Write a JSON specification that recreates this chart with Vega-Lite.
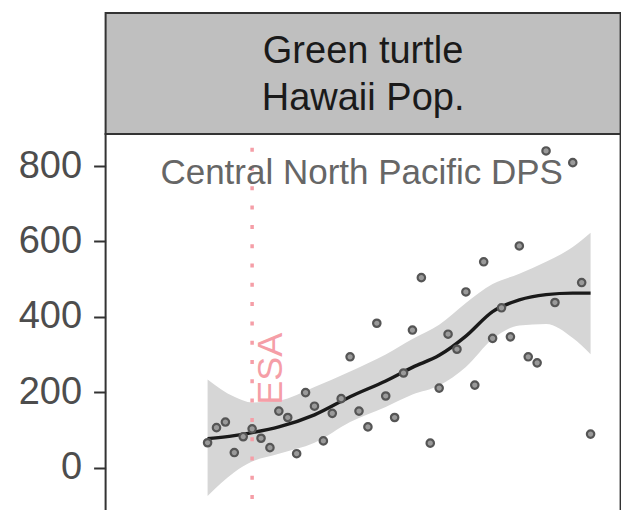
{
  "$schema": "https://vega.github.io/schema/vega-lite/v6.json",
  "padding": {"left": 16.6, "top": 12, "right": 2, "bottom": 0},
  "background": "white",
  "spacing": 0,
  "bounds": "flush",
  "config": {"font": "Liberation Sans", "view": {"stroke": "#333333", "strokeWidth": 2}},
  "datasets": {
    "strip": [{"label": ["Green turtle", "Hawaii Pop."]}],
    "pts": [
      {"year": 1973, "n": 66}, {"year": 1974, "n": 106}, {"year": 1975, "n": 121}, {"year": 1976, "n": 40},
      {"year": 1977, "n": 82}, {"year": 1978, "n": 103}, {"year": 1979, "n": 78}, {"year": 1980, "n": 53},
      {"year": 1981, "n": 150}, {"year": 1982, "n": 133}, {"year": 1983, "n": 37}, {"year": 1984, "n": 199},
      {"year": 1985, "n": 163}, {"year": 1986, "n": 71}, {"year": 1987, "n": 144}, {"year": 1988, "n": 183},
      {"year": 1989, "n": 294}, {"year": 1990, "n": 150}, {"year": 1991, "n": 108}, {"year": 1992, "n": 383},
      {"year": 1993, "n": 190}, {"year": 1994, "n": 133}, {"year": 1995, "n": 251}, {"year": 1996, "n": 365},
      {"year": 1997, "n": 504}, {"year": 1998, "n": 65}, {"year": 1999, "n": 211}, {"year": 2000, "n": 354},
      {"year": 2001, "n": 314}, {"year": 2002, "n": 466}, {"year": 2003, "n": 219}, {"year": 2004, "n": 546},
      {"year": 2005, "n": 343}, {"year": 2006, "n": 424}, {"year": 2007, "n": 347}, {"year": 2008, "n": 588},
      {"year": 2009, "n": 294}, {"year": 2010, "n": 278}, {"year": 2011, "n": 840}, {"year": 2012, "n": 438},
      {"year": 2014, "n": 809}, {"year": 2015, "n": 491}, {"year": 2016, "n": 89}
    ],
    "fit": [
      {"year": 1973, "fit": 77, "lo": -75, "hi": 234},
      {"year": 1976, "fit": 85, "lo": -12, "hi": 188},
      {"year": 1978, "fit": 93, "lo": 16, "hi": 173},
      {"year": 1981, "fit": 108, "lo": 37, "hi": 178},
      {"year": 1985, "fit": 140, "lo": 66, "hi": 214},
      {"year": 1989, "fit": 188, "lo": 121, "hi": 255},
      {"year": 1993, "fit": 230, "lo": 161, "hi": 300},
      {"year": 1996, "fit": 266, "lo": 194, "hi": 341},
      {"year": 1999, "fit": 298, "lo": 218, "hi": 379},
      {"year": 2002, "fit": 349, "lo": 267, "hi": 437},
      {"year": 2005, "fit": 414, "lo": 341, "hi": 487},
      {"year": 2008, "fit": 445, "lo": 377, "hi": 514},
      {"year": 2011, "fit": 459, "lo": 381, "hi": 546},
      {"year": 2014, "fit": 463, "lo": 344, "hi": 585},
      {"year": 2016, "fit": 463, "lo": 301, "hi": 623}
    ],
    "esa": [{"year": 1978, "y": 167, "label": "ESA"}],
    "dps": [{"year": 1990.3, "y": 752, "label": "Central North Pacific DPS"}]
  },
  "vconcat": [
    {
      "width": 515,
      "height": 121,
      "view": {"fill": "#BFBFBF", "stroke": "#333333", "strokeWidth": 2},
      "data": {"name": "strip"},
      "mark": {"type": "text", "fontSize": 38, "color": "#1A1A1A", "lineHeight": 46.7, "baseline": "middle", "align": "center", "dy": -21.5},
      "encoding": {"text": {"field": "label", "type": "nominal"}}
    },
    {
      "width": 515,
      "height": 377,
      "view": {"stroke": "#333333", "strokeWidth": 2},
      "layer": [
        {
          "data": {"name": "fit"},
          "mark": {"type": "area", "color": "#D6D6D6", "opacity": 1, "interpolate": "monotone"},
          "encoding": {
            "x": {"field": "year", "type": "quantitative", "scale": {"domain": [1961.55, 2019.37], "nice": false, "zero": false}, "axis": null},
            "y": {"field": "lo", "type": "quantitative", "scale": {"domain": [-115, 885], "nice": false, "zero": false},
                  "axis": {"title": null, "values": [0, 200, 400, 600, 800], "grid": false, "domain": false,
                           "tickColor": "#333333", "tickWidth": 2, "tickSize": 12, "labelFontSize": 38,
                           "labelColor": "#4D4D4D", "labelPadding": 12, "labelFont": "Liberation Sans"}},
            "y2": {"field": "hi"}
          }
        },
        {
          "data": {"name": "esa"},
          "mark": {"type": "rule", "color": "#F59EA7", "strokeWidth": 3.5, "strokeDash": [4, 15.3], "strokeDashOffset": 5.6},
          "encoding": {"x": {"field": "year", "type": "quantitative"}}
        },
        {
          "data": {"name": "fit"},
          "mark": {"type": "line", "color": "#1A1A1A", "strokeWidth": 3.4, "interpolate": "monotone"},
          "encoding": {
            "x": {"field": "year", "type": "quantitative"},
            "y": {"field": "fit", "type": "quantitative"}
          }
        },
        {
          "data": {"name": "pts"},
          "mark": {"type": "point", "filled": true, "fill": "#9A9A9A", "stroke": "#555555", "strokeWidth": 2.2, "size": 55, "opacity": 1},
          "encoding": {
            "x": {"field": "year", "type": "quantitative"},
            "y": {"field": "n", "type": "quantitative"}
          }
        },
        {
          "data": {"name": "esa"},
          "mark": {"type": "text", "angle": 270, "align": "left", "baseline": "top", "fontSize": 36, "color": "#F59EA7", "dy": 2},
          "encoding": {
            "x": {"field": "year", "type": "quantitative"},
            "y": {"field": "y", "type": "quantitative"},
            "text": {"field": "label", "type": "nominal"}
          }
        },
        {
          "data": {"name": "dps"},
          "mark": {"type": "text", "align": "center", "baseline": "alphabetic", "fontSize": 35, "color": "#666666"},
          "encoding": {
            "x": {"field": "year", "type": "quantitative"},
            "y": {"field": "y", "type": "quantitative"},
            "text": {"field": "label", "type": "nominal"}
          }
        }
      ]
    }
  ]
}
